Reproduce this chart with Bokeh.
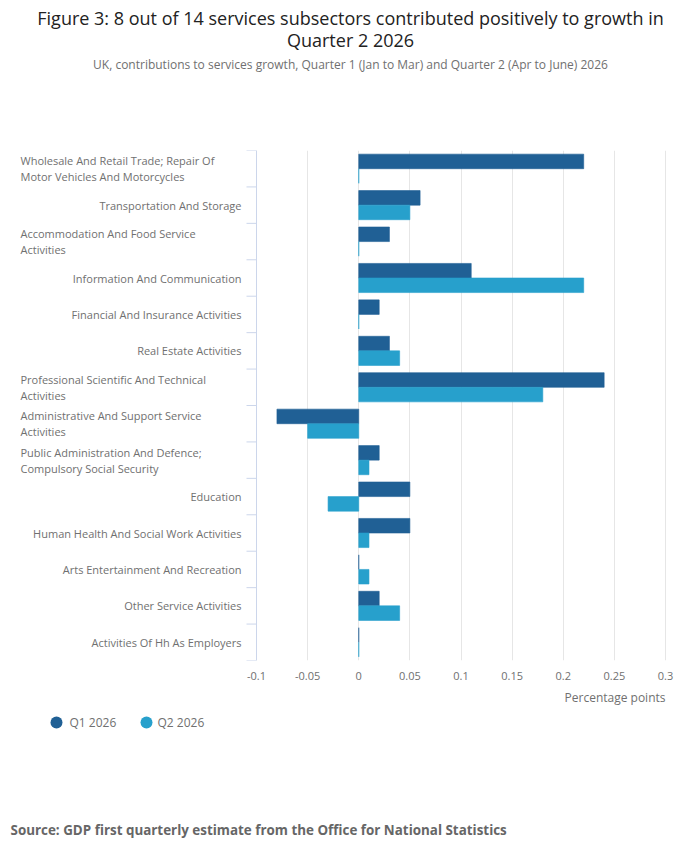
from bokeh.plotting import figure
from bokeh.models import ColumnDataSource, Range1d, FixedTicker, NumeralTickFormatter, Span
from bokeh.layouts import column
from bokeh.transform import dodge
from bokeh.core.properties import value
from bokeh.embed import file_html
from bokeh.resources import INLINE

# ---------------- data ----------------
categories = [
    "Wholesale And Retail Trade; Repair Of Motor Vehicles And Motorcycles",
    "Transportation And Storage",
    "Accommodation And Food Service Activities",
    "Information And Communication",
    "Financial And Insurance Activities",
    "Real Estate Activities",
    "Professional Scientific And Technical Activities",
    "Administrative And Support Service Activities",
    "Public Administration And Defence; Compulsory Social Security",
    "Education",
    "Human Health And Social Work Activities",
    "Arts Entertainment And Recreation",
    "Other Service Activities",
    "Activities Of Hh As Employers",
]
tick_labels = [
    "Wholesale And Retail Trade; Repair Of\nMotor Vehicles And Motorcycles",
    "Transportation And Storage",
    "Accommodation And Food Service\nActivities",
    "Information And Communication",
    "Financial And Insurance Activities",
    "Real Estate Activities",
    "Professional Scientific And Technical\nActivities",
    "Administrative And Support Service\nActivities",
    "Public Administration And Defence;\nCompulsory Social Security",
    "Education",
    "Human Health And Social Work Activities",
    "Arts Entertainment And Recreation",
    "Other Service Activities",
    "Activities Of Hh As Employers",
]
q1_2026 = [0.22, 0.06, 0.03, 0.11, 0.02, 0.03, 0.24, -0.08, 0.02, 0.05, 0.05, 0.0, 0.02, 0.0]
q2_2026 = [0.0, 0.05, 0.0, 0.22, 0.0, 0.04, 0.18, -0.05, 0.01, -0.03, 0.01, 0.01, 0.04, 0.0]
series_names = ["Q1 2026", "Q2 2026"]
x_ticks = [-0.1, -0.05, 0, 0.05, 0.1, 0.15, 0.2, 0.25, 0.3]

title_lines = ["Figure 3: 8 out of 14 services subsectors contributed positively to growth in",
               "Quarter 2 2026"]
subtitle_text = "UK, contributions to services growth, Quarter 1 (Jan to Mar) and Quarter 2 (Apr to June) 2026"
x_axis_title = "Percentage points"
source_text = "Source: GDP first quarterly estimate from the Office for National Statistics"

# ---------------- style / layout ----------------
C1 = "#206095"
C2 = "#27a0cc"
FONT = "Open Sans"
AXIS_C = "#ccd6eb"
GRID_C = "#e6e6e6"
LABEL_C = "#707070"
W = 684
TOP_H = 150           # header height
PLOT_H = 510          # plot area height
AXIS_H = 26           # x-axis label band
FOOT_H = 841 - TOP_H - PLOT_H - AXIS_H
FRAME_L = 0           # left edge of every frame (px)
AX_L, AX_R = 256, 665  # px of first / last x tick
LINE_GAP = 16         # px between wrapped label lines


def clean(fig):
    fig.outline_line_color = None
    fig.background_fill_color = "white"
    fig.border_fill_color = "white"
    return fig


def text_fig(h, y0):
    return clean(figure(width=W, height=h, x_range=Range1d(FRAME_L, W),
                        y_range=Range1d(y0 + h, y0), x_axis_type=None, y_axis_type=None,
                        output_backend="svg", toolbar_location=None,
                        min_border_left=FRAME_L, min_border_right=0,
                        min_border_top=0, min_border_bottom=0))


# ---------------- header ----------------
head = text_fig(TOP_H, 0)
head.text(x=[350] * len(title_lines), y=[17 + 22 * k for k in range(len(title_lines))],
          text=title_lines, text_align="center", text_baseline="middle",
          text_font=value(FONT), text_font_size="18px", text_color="#222222")
head.text(x=[350], y=[64], text=[subtitle_text], text_align="center", text_baseline="middle",
          text_font=value(FONT), text_font_size="12px", text_color=LABEL_C)

# ---------------- main plot ----------------
n = len(categories)
units_per_px = (x_ticks[-1] - x_ticks[0]) / (AX_R - AX_L)
x0 = x_ticks[0] - (AX_L - FRAME_L) * units_per_px
x1 = x_ticks[-1] + (W - AX_R) * units_per_px
cat_per_px = n / PLOT_H

p = clean(figure(width=W, height=PLOT_H + AXIS_H, output_backend="svg", toolbar_location=None,
                 x_range=Range1d(x0, x1), y_range=Range1d(n, 0), y_axis_location=None,
                 min_border_left=FRAME_L, min_border_right=0, min_border_top=0,
                 min_border_bottom=AXIS_H))

centers = [i + 0.5 for i in range(n)]
src = ColumnDataSource(dict(y=centers, q1=q1_2026, q2=q2_2026))
p.hbar(y=dodge("y", -0.2), right="q1", left=0, height=0.4, source=src,
       fill_color=C1, line_color=C1, line_width=0.6)
p.hbar(y=dodge("y", 0.2), right="q2", left=0, height=0.4, source=src,
       fill_color=C2, line_color=C2, line_width=0.6)

p.xaxis.ticker = FixedTicker(ticks=x_ticks)
p.xaxis.formatter = NumeralTickFormatter(format="0.[00]")
p.xaxis.axis_line_color = None
p.xaxis.major_tick_line_color = None
p.xaxis.minor_tick_line_color = None
p.xaxis.major_tick_out = 0
p.xaxis.major_tick_in = 0
p.xaxis.major_label_standoff = 11
p.xaxis.major_label_text_font = FONT
p.xaxis.major_label_text_font_size = "11px"
p.xaxis.major_label_text_color = LABEL_C

p.xgrid.ticker = FixedTicker(ticks=x_ticks)
p.xgrid.grid_line_color = GRID_C
p.ygrid.grid_line_color = None

# category axis: line, boundary ticks and labels
p.add_layout(Span(location=x_ticks[0], dimension="height", line_color=AXIS_C, line_width=1))
bounds = list(range(n + 1))
p.segment(x0=[x_ticks[0]] * (n + 1), x1=[x_ticks[0] - 10 * units_per_px] * (n + 1),
          y0=bounds, y1=bounds, line_color=AXIS_C, line_width=1)

sx, sy, st = [], [], []   # single-line labels (right aligned)
mx, my, mt = [], [], []   # wrapped labels (left aligned)
for i, t in enumerate(tick_labels):
    lines = t.split("\n")
    if len(lines) == 1:
        sx.append(x_ticks[0] - 15 * units_per_px)
        sy.append(centers[i])
        st.append(t)
    else:
        for k, line in enumerate(lines):
            off = (k - (len(lines) - 1) / 2) * LINE_GAP * cat_per_px
            mx.append(x_ticks[0] - (AX_L - 20) * units_per_px)
            my.append(centers[i] + off)
            mt.append(line)
p.text(x=sx, y=sy, text=st, text_align="right", text_baseline="middle",
       text_font=value(FONT), text_font_size="11px", text_color=LABEL_C)
p.text(x=mx, y=my, text=mt, text_align="left", text_baseline="middle",
       text_font=value(FONT), text_font_size="11px", text_color=LABEL_C)

# ---------------- footer ----------------
y_top = TOP_H + PLOT_H + AXIS_H
foot = text_fig(FOOT_H, y_top)
foot.text(x=[AX_R], y=[697], text=[x_axis_title], text_align="right", text_baseline="middle",
          text_font=value(FONT), text_font_size="12px", text_color=LABEL_C)
foot.scatter(x=[56, 146], y=[722, 722], marker="circle", size=12,
             fill_color=[C1, C2], line_color=None)
foot.text(x=[69, 157], y=[722, 722], text=series_names, text_align="left",
          text_baseline="middle", text_font=value(FONT), text_font_size="12px",
          text_color=LABEL_C)
foot.text(x=[10], y=[829], text=[source_text], text_align="left", text_baseline="middle",
          text_font=value(FONT), text_font_size="13.4px", text_font_style="bold",
          text_color="#666666")

layout = column(head, p, foot, spacing=0)
open("out.html", "w").write(file_html(layout, INLINE))
